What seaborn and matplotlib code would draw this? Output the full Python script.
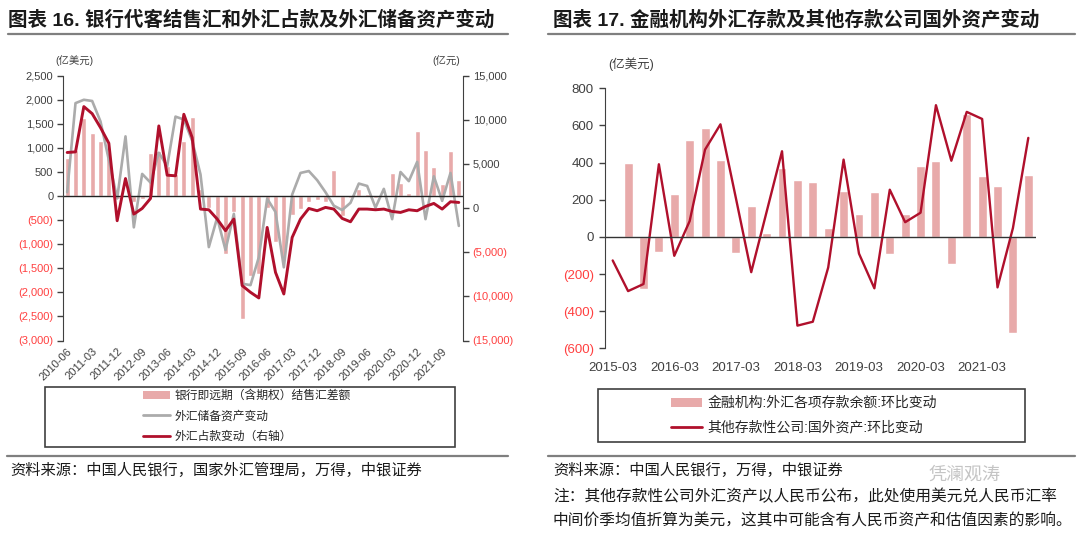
import numpy as np
import pandas as pd
import matplotlib
matplotlib.use("Agg")
import matplotlib.pyplot as plt
import seaborn as sns
from matplotlib.lines import Line2D
from matplotlib.patches import Patch, Rectangle

# ---- data: figure 16 (quarterly, 2010-06 .. 2022-03) ----
quarters_16 = [f"{y}-{m:02d}" for y in range(2010, 2023) for m in (3, 6, 9, 12)][1:49]
xtick_labels_16 = ["2010-06", "2011-03", "2011-12", "2012-09", "2013-06", "2014-03",
                   "2014-12", "2015-09", "2016-06", "2017-03", "2017-12", "2018-09",
                   "2019-06", "2020-03", "2020-12", "2021-09"]

# 银行即远期（含期权）结售汇差额, 亿美元
fx_settlement = [800, 950, 1620, 1300, 1150, 820, -60, -20, -120, -55,
                 900, 940, 630, 450, 1150, 1640, 150, -250, -500, -1200,
                 -335, -2550, -1650, -1610, -250, -955, -1300, -400, -265, -125,
                 -90, -125, 540, -420, -50, 150, 50, -30, 30, 484,
                 270, 60, 1342, 962, 602, 256, 927, 339]
# 外汇储备资产变动, 亿美元
fx_reserve = [80, 1930, 2000, 1975, 1550, 750, -50, 1240, -650, 460,
              280, 900, 620, 1650, 1590, 1150, 450, -1060, -450, -1120,
              -370, -1820, -1850, -1270, -55, -330, -1480, 30, 480, 520,
              330, 80, -200, -290, -140, 260, 210, -240, 150, -480,
              500, 310, 710, -480, 410, -100, 480, -620]
# 外汇占款变动（右轴）, 亿元
fx_funds = [6300, 6370, 11500, 10700, 9120, 7350, -1430, 3350, -680, -40,
            1090, 9310, 3730, 3660, 10630, 7990, -110, -190, -1240, -2560,
            -1240, -8780, -9540, -10180, -2190, -7280, -9730, -3320, -1240, -40,
            -300, 80, -110, -1170, -1550, -110, -110, -190, -110, -380,
            -490, -190, -300, 190, 530, -110, 720, 640]

# ---- data: figure 17 (quarterly, 2015-03 .. 2021-12) ----
quarters_17 = [f"{y}-{m:02d}" for y in range(2015, 2022) for m in (3, 6, 9, 12)]
xtick_labels_17 = ["2015-03", "2016-03", "2017-03", "2018-03", "2019-03", "2020-03", "2021-03"]
# 金融机构:外汇各项存款余额:环比变动, 亿美元 (no value for 2015-03)
fx_deposits = [0, 398, -278, -82, 231, 519, 587, 416, -87, 166,
               20, 371, 306, 293, 50, 245, 122, 239, -94, 122,
               383, 410, -146, 659, 326, 275, -515, 333]
# 其他存款性公司:国外资产:环比变动, 亿美元
odc_foreign_assets = [-127, -292, -254, 391, -102, 85, 470, 606, 210, -190,
                      135, 461, -478, -457, -165, 416, -90, -277, 254, 79,
                      130, 709, 410, 673, 635, -272, 47, 533]

BAR_COLOR = "#E8AAAA"
GRAY = "#ABABAB"
DARK_RED = "#B0102C"
NEG_COLOR = "#FF4040"
POS_COLOR = "#404040"

sns.set_style("ticks")
plt.rcParams["font.family"] = ["Liberation Sans", "Noto Sans CJK SC", "DejaVu Sans"]
plt.rcParams["axes.unicode_minus"] = False

W, H = 1080, 538
fig = plt.figure(figsize=(W / 100, H / 100), dpi=100)


def fx(px):
    return px / W


def fy(py):
    return 1 - py / H


def acct(v):
    return f"({abs(v):,.0f})" if v < 0 else f"{v:,.0f}"


def set_yticks(ax, ticks, size):
    ax.set_yticks(ticks)
    ax.set_yticklabels([acct(t) for t in ticks], fontsize=size)
    for lab, t in zip(ax.get_yticklabels(), ticks):
        lab.set_color(NEG_COLOR if t < 0 else POS_COLOR)


def fig_line(x0, x1, y):
    fig.add_artist(Line2D([fx(x0), fx(x1)], [fy(y), fy(y)], transform=fig.transFigure,
                          color="#7F7F7F", lw=1.6))


def fig_box(x0, y0, x1, y1):
    fig.add_artist(Rectangle((fx(x0), fy(y1)), fx(x1) - fx(x0), fy(y0) - fy(y1),
                             transform=fig.transFigure, fill=False,
                             edgecolor="#404040", lw=1.2))


# ================= Figure 16 =================
ax1 = fig.add_axes([fx(63), fy(340.5), fx(400), 264.8 / H])
df16 = pd.DataFrame({"q": quarters_16, "settle": fx_settlement,
                     "reserve": fx_reserve, "funds": fx_funds, "i": np.arange(len(quarters_16))})
sns.barplot(data=df16, x="q", y="settle", order=quarters_16, ax=ax1,
            color=BAR_COLOR, saturation=1, width=0.6)
sns.lineplot(data=df16, x="i", y="reserve", ax=ax1, color=GRAY, lw=1.9)
ax1.axhline(0, color="#222222", lw=1)
ax1.set_ylim(-3000, 2500)
ax1.set_xlim(-0.5, len(quarters_16) - 0.5)
set_yticks(ax1, list(range(-3000, 2501, 500)), 8)
ax1.set_xticks(range(0, len(quarters_16), 3))
ax1.set_xticklabels(xtick_labels_16, rotation=45, ha="right", rotation_mode="anchor",
                    fontsize=8, color=POS_COLOR)
ax1.tick_params(axis="x", length=0, pad=4)
ax1.tick_params(axis="y", length=4, width=1, color="#404040", pad=3)
ax1.set_xlabel("")
ax1.set_ylabel("")
for s in ("top", "right", "bottom"):
    ax1.spines[s].set_visible(False)
ax1.spines["left"].set_color("#404040")

ax2 = ax1.twinx()
sns.lineplot(data=df16, x="i", y="funds", ax=ax2, color=DARK_RED, lw=2.1)
ax2.set_ylim(-15000, 15000)
set_yticks(ax2, list(range(-15000, 15001, 5000)), 8)
ax2.tick_params(axis="y", length=4, width=1, color="#404040", pad=3)
ax2.set_ylabel("")
for s in ("top", "left", "bottom"):
    ax2.spines[s].set_visible(False)
ax2.spines["right"].set_color("#404040")

fig.text(fx(8), fy(20), "图表 16. 银行代客结售汇和外汇占款及外汇储备资产变动",
         fontsize=14, fontweight="bold", va="center", ha="left", color="#1A1A1A")
fig_line(8, 508, 34)
fig.text(fx(74), fy(61), "(亿美元)", fontsize=7.5, ha="center", va="center", color=POS_COLOR)
fig.text(fx(446), fy(61), "(亿元)", fontsize=7.5, ha="center", va="center", color=POS_COLOR)

fig_box(45, 387, 455, 447)
handles16 = [Patch(facecolor=BAR_COLOR, edgecolor="none"),
             Line2D([], [], color=GRAY, lw=2),
             Line2D([], [], color=DARK_RED, lw=2)]
labels16 = ["银行即远期（含期权）结售汇差额", "外汇储备资产变动", "外汇占款变动（右轴）"]
fig.legend(handles16, labels16, loc="upper left", bbox_to_anchor=(fx(143), fy(390)),
           frameon=False, fontsize=8.5, handlelength=2.3, handleheight=0.6,
           handletextpad=0.4, labelspacing=0.7, borderpad=0, borderaxespad=0)
fig_line(7, 508, 456)
fig.text(fx(10), fy(470), "资料来源：中国人民银行，国家外汇管理局，万得，中银证券",
         fontsize=11, va="center", ha="left", color="#1A1A1A")

# ================= Figure 17 =================
ax3 = fig.add_axes([fx(605), fy(348.3), fx(431), 260 / H])
df17 = pd.DataFrame({"q": quarters_17, "dep": fx_deposits, "odc": odc_foreign_assets,
                     "i": np.arange(len(quarters_17))})
sns.barplot(data=df17, x="q", y="dep", order=quarters_17, ax=ax3,
            color=BAR_COLOR, saturation=1, width=0.58)
sns.lineplot(data=df17, x="i", y="odc", ax=ax3, color=DARK_RED, lw=1.7)
ax3.axhline(0, color="#333333", lw=1)
ax3.set_ylim(-600, 800)
ax3.set_xlim(-0.5, len(quarters_17) - 0.5)
set_yticks(ax3, list(range(-600, 801, 200)), 9.5)
ax3.set_xticks(range(0, len(quarters_17), 4))
ax3.set_xticklabels(xtick_labels_17, fontsize=9.5, color=POS_COLOR)
ax3.tick_params(axis="x", length=0, pad=10)
ax3.tick_params(axis="y", length=4, width=1, color="#404040", pad=4)
ax3.set_xlabel("")
ax3.set_ylabel("")
for s in ("top", "right", "bottom"):
    ax3.spines[s].set_visible(False)
ax3.spines["left"].set_color("#404040")

fig.text(fx(553), fy(20), "图表 17. 金融机构外汇存款及其他存款公司国外资产变动",
         fontsize=14, fontweight="bold", va="center", ha="left", color="#1A1A1A")
fig_line(548, 1075, 34)
fig.text(fx(631), fy(64), "(亿美元)", fontsize=9, ha="center", va="center", color=POS_COLOR)

fig_box(598, 389, 1025, 442)
handles17 = [Patch(facecolor=BAR_COLOR, edgecolor="none"),
             Line2D([], [], color=DARK_RED, lw=2)]
labels17 = ["金融机构:外汇各项存款余额:环比变动", "其他存款性公司:国外资产:环比变动"]
fig.legend(handles17, labels17, loc="upper left", bbox_to_anchor=(fx(671), fy(396)),
           frameon=False, fontsize=10, handlelength=2.2, handleheight=0.6,
           handletextpad=0.4, labelspacing=0.75, borderpad=0, borderaxespad=0)
fig_line(548, 1075, 456)
fig.text(fx(553), fy(470), "资料来源：中国人民银行，万得，中银证券",
         fontsize=11, va="center", ha="left", color="#1A1A1A")
fig.text(fx(553), fy(496), "注：其他存款性公司外汇资产以人民币公布，此处使用美元兑人民币汇率",
         fontsize=11.3, va="center", ha="left", color="#1A1A1A")
fig.text(fx(553), fy(521), "中间价季均值折算为美元，这其中可能含有人民币资产和估值因素的影响。",
         fontsize=11.3, va="center", ha="left", color="#1A1A1A")
# watermark, kept clear of the note lines
fig.text(fx(965), fy(475), "凭澜观涛", fontsize=13, va="center", ha="center",
         color="#C4C4C4")

fig.savefig("out.png", dpi=100)
